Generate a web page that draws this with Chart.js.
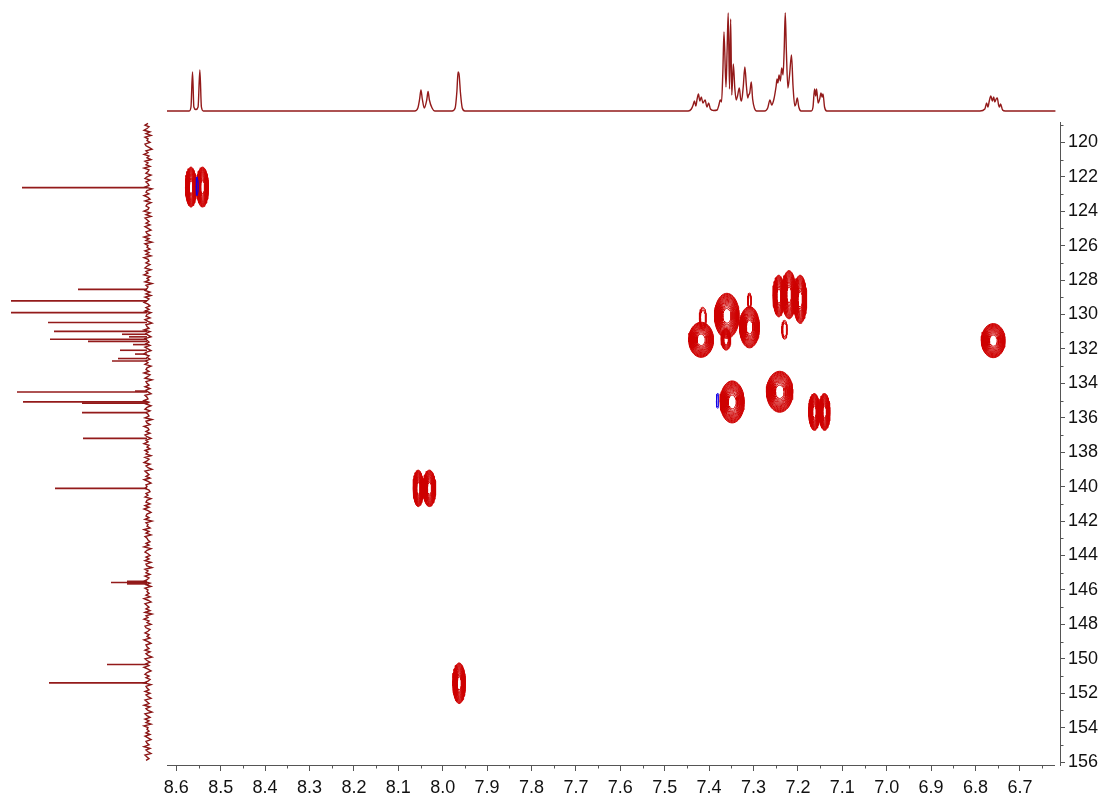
<!DOCTYPE html>
<html><head><meta charset="utf-8">
<script src="https://cdn.jsdelivr.net/npm/chart.js@4.4.0/dist/chart.umd.min.js"></script>
<style>
body{margin:0;background:#fff;}
#wrap{position:relative;width:1105px;height:800px;}
canvas{position:absolute;left:0;top:0;}
</style>
</head><body>
<div id="wrap">
<canvas id="main" width="1105" height="800"></canvas>
<canvas id="left" width="165" height="800"></canvas>
<canvas id="top" width="1105" height="120"></canvas>
</div>
<script>
// ---------- tick labels ----------
const xTicks = [8.6,8.5,8.4,8.3,8.2,8.1,8.0,7.9,7.8,7.7,7.6,7.5,7.4,7.3,7.2,7.1,7.0,6.9,6.8,6.7];
const xMinorTicks = [8.55,8.45,8.35,8.25,8.15,8.05,7.95,7.85,7.75,7.65,7.55,7.45,7.35,7.25,7.15,7.05,6.95,6.85,6.75,6.65];
const yTicks = [120,122,124,126,128,130,132,134,136,138,140,142,144,146,148,150,152,154,156];
const yMinorTicks = [119,121,123,125,127,129,131,133,135,137,139,141,143,145,147,149,151,153,155];

// ---------- 1H projection (top): shift (ppm), intensity ----------
const h1Shift = [8.621,8.571,8.567,8.5635,8.5605,8.556,8.551,8.547,8.5435,8.539,
 8.063,8.056,8.052,8.049,8.046,8.0415,8.036,8.033,8.030,8.024,8.018,
 7.979,7.972,7.968,7.9655,7.963,7.960,7.956,7.950,
 7.447,7.440,7.436,7.433,7.430,7.427,7.424,7.421,7.4175,7.414,7.409,7.405,7.401,7.397,7.390,7.382,7.378,7.375,7.372,7.369,7.3665,7.362,7.3595,7.357,7.354,7.3515,7.349,7.3455,7.342,7.339,7.336,7.332,7.329,7.327,7.323,7.3195,7.316,7.313,7.311,7.3085,7.305,7.302,7.298,7.293,
 7.275,7.268,7.263,7.259,7.254,7.249,7.247,7.245,7.2425,7.2395,7.2365,7.2335,7.231,7.2285,7.226,7.2225,7.219,7.2145,7.211,7.207,7.2045,7.2015,7.198,7.193,
 7.170,7.166,7.1625,7.160,7.158,7.1545,7.151,7.148,7.1455,7.1435,7.140,7.135,
 6.790,6.779,6.775,6.772,6.769,6.7655,6.762,6.759,6.7565,6.7535,6.751,6.748,6.746,6.7435,6.739,6.733,6.62];
const h1Int = [0,0,4,39,4,1.5,4,41,4,0,
 0,3,12,21,12,3,11,19.5,11,3,0,
 0,3,20,39,36,18,3,0,
 0,2,6,10,5,12,17,10,14,8,11,4,8,2,0.5,1,6,11,9,40,79,24,60,98,22,92,16,47,22,11,15,23,12,10,25,44,25,13,16,18,29,12,3,0,
 0,3,11,6,12,25,32,28,36,30,43,36,60,98,60,23,35,56,25,5,7,13,4,0,
 0,4,22,15,22,8,12,18,14,17,4,0,
 0,2,8,4,10,15,10,14,9,12,13,6,4,7,1,0,0];

// ---------- 13C projection (left): peak shifts (ppm), intensities ----------
const c13Shift = [122.63,128.54,129.21,129.89,130.47,130.98,131.15,131.3,131.44,131.56,131.75,132.08,132.3,132.56,132.7,134.45,134.5,135.08,135.15,135.7,137.2,140.1,145.5,145.55,145.6,145.65,145.57,150.33,151.4];
const c13Int   = [125,69,136,136,99,93,25,18,97,59,14,27,12,29,35,12,130,124,65,65,64,92,20,20,20,20,36,40,98];
// baseline noise of the 13C trace, sampled from 118.9 ppm every 0.1 ppm
const c13NoiseStart = 118.9, c13NoiseStep = 0.1;
const c13Noise = [
-1,2,-2,0,3,-3,1,-4,2,-1,0,-3,2,1,-2,-5,1,-1,3,-2,
0,-4,2,-1,1,-3,3,-2,-1,1,-4,0,2,-3,1,-1,-2,2,-5,0,
1,-2,3,-1,-3,2,-4,0,1,-2,-1,3,-3,1,-4,2,0,-2,1,-3,
2,-1,-4,1,0,-3,3,-2,1,-5,2,-1,0,-3,2,-2,1,-4,3,-1,
-2,1,-3,0,2,-4,1,-1,3,-3,0,-2,2,-5,1,-1,0,2,-3,1,
-4,2,-2,0,3,-1,-3,1,-2,2,-4,0,1,-3,2,-1,-5,1,0,-2,
3,-3,1,-1,-4,2,0,-2,1,-3,2,-1,-4,1,3,-2,0,-3,1,-1,
2,-4,0,1,-2,3,-3,-1,2,-5,1,0,-2,2,-3,1,-1,-4,2,0,
-1,3,-2,1,-4,0,2,-3,1,-1,-2,2,-5,1,0,-3,3,-1,-2,1,
-3,2,0,-4,1,-1,3,-2,0,-3,2,-1,1,-4,2,-2,0,3,-3,1,
-1,-5,2,0,-2,1,-3,3,-1,-4,1,0,2,-2,-3,1,-1,2,-4,0,
1,-3,2,-2,3,-1,-4,0,1,-2,2,-5,1,-1,0,-3,3,-2,1,-4,
2,0,-1,-3,1,-2,3,-4,0,2,-1,-3,1,-2,2,-4,1,0,-5,2,
-1,1,-3,2,-2,0,3,-3,1,-4,2,-1,0,-2,1,-3,3,-1,-4,2,
0,-2,1,-3,2,-5,1,-1,3,-2,0,-4,2,1,-3,-1,2,-2,0,-3,
3,-1,-4,1,0,-2,2,-3,1,-1,-5,2,0,-3,1,-2,3,-1,-4,0,
2,-2,1,-3,-1,3,-4,1,0,-2,2,-3,1,-1,-4,2,0,-2,3,-3,
1,-1,-5,2,0,-3,2,-2,1,-4,3,-1,0,-2,1,-3,2,-1,-4,1,
0,-2,3,-3,1,-1,-4,2,0,-2,1];

// ---------- HSQC cross peaks (positive): 1H, 13C, half widths, contour levels ----------
const hsqcH  = [8.567,8.541,8.055,8.030,7.963,7.418,7.414,7.360,7.362,7.309,7.309,7.243,7.220,7.195,7.230,7.348,7.241,7.163,7.140,6.760];
const hsqcC  = [122.6,122.6,140.1,140.1,151.42,131.47,130.22,130.08,131.45,130.74,129.2,128.93,128.85,129.12,130.89,135.08,134.49,135.66,135.66,131.52];
const hsqcWH = [0.0125,0.0135,0.0115,0.0145,0.0143,0.028,0.008,0.028,0.011,0.0225,0.0045,0.013,0.016,0.015,0.0064,0.0274,0.030,0.0125,0.0125,0.027];
const hsqcWC = [1.16,1.16,1.06,1.06,1.18,1.02,0.64,1.31,0.62,1.2,0.44,1.21,1.4,1.4,0.55,1.22,1.19,1.07,1.07,0.99];
const hsqcLevels = [18,18,18,18,18,18,3,18,8,18,3,16,18,18,3,18,18,18,18,18];
// negative cross peaks
const negH  = [8.553,7.381];
const negC  = [122.55,135.01];
const negWH = [0.0025,0.0027];
const negWC = [0.55,0.44];
const negLevels = [2,2];

// ---------- axis ranges ----------
const X_MAX = 8.621, X_MIN = 6.6097;
const Y_MIN = 118.82, Y_MAX = 156.17;
const RING_STEPS = 48;

Chart.defaults.font.family = "'Liberation Sans', Arial, sans-serif";
Chart.defaults.font.size = 18;
Chart.defaults.color = '#111';

function ringDatasets(H, C, WH, WC, L, color, order){
  const out = [];
  for (let i = 0; i < H.length; i++){
    for (let k = 0; k < L[i]; k++){
      const f = Math.sqrt(1 - k/(L[i]+1));
      const pts = [];
      for (let j = 0; j <= RING_STEPS; j++){
        const t = j/RING_STEPS*2*Math.PI;
        pts.push({x: H[i] + WH[i]*f*Math.cos(t), y: C[i] + WC[i]*f*Math.sin(t)});
      }
      out.push({data: pts, showLine: true, pointRadius: 0, borderColor: color, borderWidth: 1, tension: 0, order});
    }
  }
  return out;
}

const axisPlugin = {
  id: 'axisExtras',
  afterDraw(chart){
    const {ctx, chartArea: a, scales: {x, y}} = chart;
    ctx.save();
    ctx.strokeStyle = '#555'; ctx.lineWidth = 1;
    ctx.beginPath();
    ctx.moveTo(a.left, a.bottom + 0.5); ctx.lineTo(a.right - 5, a.bottom + 0.5);
    xMinorTicks.forEach(v => { const px = Math.round(x.getPixelForValue(v)) + 0.5; ctx.moveTo(px, a.bottom); ctx.lineTo(px, a.bottom + 3.5); });
    yMinorTicks.forEach(v => { const py = Math.round(y.getPixelForValue(v)) + 0.5; ctx.moveTo(a.right, py); ctx.lineTo(a.right + 3.5, py); });
    ctx.stroke();
    ctx.restore();
  }
};

const common = {responsive: false, animation: false, devicePixelRatio: 1, events: [],
  plugins: {legend: {display: false}, tooltip: {enabled: false}}};

// ---------- main HSQC chart ----------
new Chart(document.getElementById('main'), {
  type: 'scatter',
  data: {datasets: [
    ...ringDatasets(negH, negC, negWH, negWC, negLevels, 'rgba(20,0,230,0.75)', 0),
    ...ringDatasets(hsqcH, hsqcC, hsqcWH, hsqcWC, hsqcLevels, 'rgb(206,0,0)', 1)
  ]},
  options: {...common,
    layout: {padding: {left: 167, top: 122, right: 0, bottom: 0}},
    scales: {
      x: {type: 'linear', position: 'bottom', reverse: true, min: X_MIN, max: X_MAX,
        afterFit(s){ s.height = 35; },
        afterBuildTicks(s){ s.ticks = xTicks.map(v => ({value: v})); },
        ticks: {callback: v => Number(v).toFixed(1), padding: 6, maxRotation: 0, autoSkip: false, color: '#111'},
        grid: {display: true, drawOnChartArea: false, drawTicks: true, tickLength: 6, tickColor: '#555'},
        border: {display: false}},
      y: {type: 'linear', position: 'right', reverse: true, min: Y_MIN, max: Y_MAX,
        afterFit(s){ s.width = 45; },
        afterBuildTicks(s){ s.ticks = yTicks.map(v => ({value: v})); },
        ticks: {callback: v => String(v), padding: 3, autoSkip: false, color: '#111'},
        grid: {display: true, drawOnChartArea: false, drawTicks: true, tickLength: 5, tickColor: '#555'},
        border: {display: true, color: '#555'}}
    }
  },
  plugins: [axisPlugin]
});

// ---------- top 1H projection ----------
new Chart(document.getElementById('top'), {
  type: 'scatter',
  data: {datasets: [{
    data: h1Shift.map((s, i) => ({x: s, y: h1Int[i]})),
    showLine: true, pointRadius: 0, borderColor: '#931a1a', borderWidth: 1.4,
    cubicInterpolationMode: 'monotone', clip: false
  }]},
  options: {...common,
    layout: {padding: {left: 167, right: 45, top: 11, bottom: 9}},
    scales: {
      x: {type: 'linear', display: false, reverse: true, min: X_MIN, max: X_MAX},
      y: {type: 'linear', display: false, min: 0, max: 100}
    }
  }
});

// ---------- left 13C projection ----------
const leftSets = [{
  data: c13Noise.map((v, i) => ({x: v, y: c13NoiseStart + i*c13NoiseStep})),
  showLine: true, pointRadius: 0, borderColor: '#8a1414', borderWidth: 1.4, tension: 0, clip: false
}];
c13Shift.forEach((p, i) => {
  leftSets.push({data: [{x: 0, y: p}, {x: c13Int[i], y: p}], showLine: true, pointRadius: 0,
    borderColor: '#931a1a', borderWidth: 1.6, clip: false});
});
new Chart(document.getElementById('left'), {
  type: 'scatter',
  data: {datasets: leftSets},
  options: {...common,
    layout: {padding: {left: 0, right: 5, top: 122, bottom: 35}},
    scales: {
      x: {type: 'linear', display: false, reverse: true, min: -13, max: 147},
      y: {type: 'linear', display: false, reverse: true, min: Y_MIN, max: Y_MAX}
    }
  }
});
</script>
</body></html>
